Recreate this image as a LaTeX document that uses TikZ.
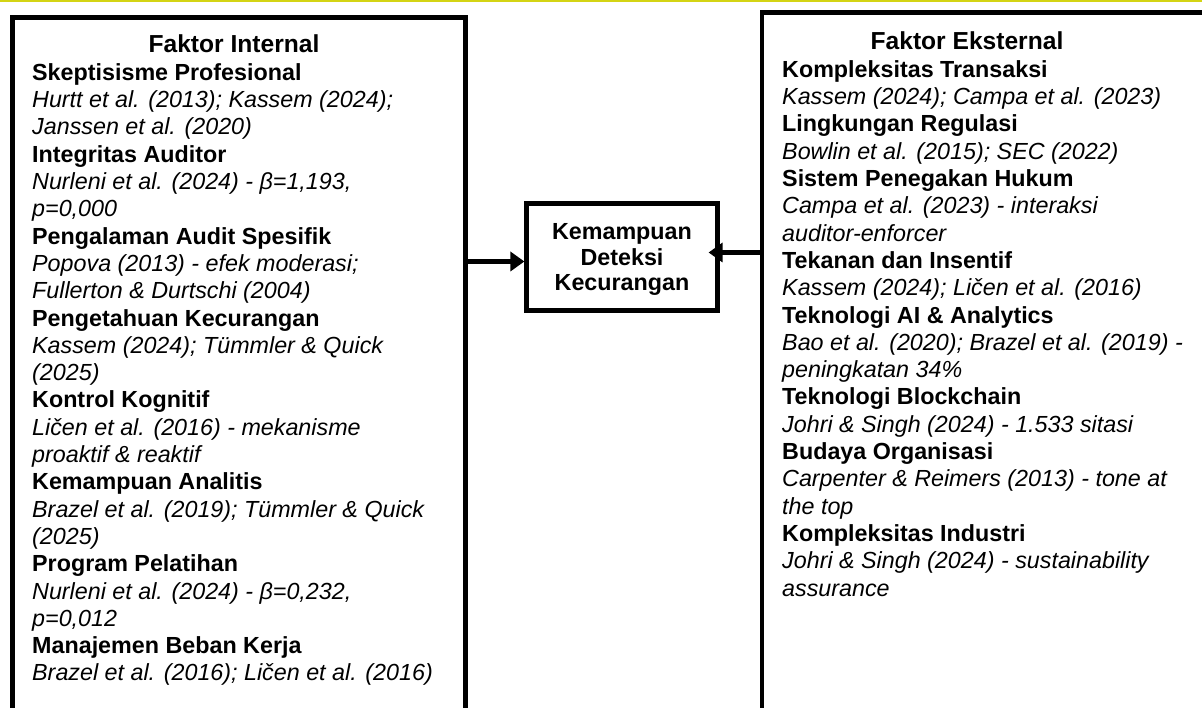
\documentclass[tikz,border=0pt]{standalone}
\usepackage{fontspec}
\setmainfont{Liberation Sans}
\usetikzlibrary{arrows.meta,positioning}
\definecolor{garisatas}{RGB}{212,212,20}
\newcommand{\fk}[1]{\textbf{#1}}
\newcommand{\rf}[1]{\textit{#1}}

\begin{document}
\begin{tikzpicture}[x=1pt, y=-1pt, line join=miter, >={Triangle[length=14pt,width=19pt]},
	kotak/.style={draw, line width=4.6pt, inner sep=0pt, anchor=north west},
	judul/.style={font=\bfseries\fontsize{24.6}{27.3}\selectfont, inner sep=0pt, anchor=base},
	isi/.style={font=\fontsize{23.3}{27.3}\selectfont, align=left, inner sep=0pt, anchor=base west},
	panah/.style={->, line width=5pt}]
	\clip (0,0) rectangle (1202,708);
	\fill[garisatas] (0,0) rectangle (1202,2.5);
	% faktor internal (base = baris terakhir)
	\node[kotak, minimum width=453pt, minimum height=760pt] (internal) at (10,15) {};
	\node[judul] (jinternal) at (234,53) {Faktor Internal};
	\node[isi] (iinternal) at (32,680.9) {\fk{Skeptisisme Profesional}\\
		\rf{Hurtt et al. (2013); Kassem (2024);}\\
		\rf{Janssen et al. (2020)}\\
		\fk{Integritas Auditor}\\
		\rf{Nurleni et al. (2024) - β=1,193,}\\
		\rf{p=0,000}\\
		\fk{Pengalaman Audit Spesifik}\\
		\rf{Popova (2013) - efek moderasi;}\\
		\rf{Fullerton \& Durtschi (2004)}\\
		\fk{Pengetahuan Kecurangan}\\
		\rf{Kassem (2024); Tümmler \& Quick}\\
		\rf{(2025)}\\
		\fk{Kontrol Kognitif}\\
		\rf{Ličen et al. (2016) - mekanisme}\\
		\rf{proaktif \& reaktif}\\
		\fk{Kemampuan Analitis}\\
		\rf{Brazel et al. (2019); Tümmler \& Quick}\\
		\rf{(2025)}\\
		\fk{Program Pelatihan}\\
		\rf{Nurleni et al. (2024) - β=0,232,}\\
		\rf{p=0,012}\\
		\fk{Manajemen Beban Kerja}\\
		\rf{Brazel et al. (2016); Ličen et al. (2016)}};
	% faktor eksternal
	\node[kotak, minimum width=500pt, minimum height=760pt] (eksternal) at (759.5,10) {};
	\node[judul] (jeksternal) at (967,50) {Faktor Eksternal};
	\node[isi] (ieksternal) at (782,596) {\fk{Kompleksitas Transaksi}\\
		\rf{Kassem (2024); Campa et al. (2023)}\\
		\fk{Lingkungan Regulasi}\\
		\rf{Bowlin et al. (2015); SEC (2022)}\\
		\fk{Sistem Penegakan Hukum}\\
		\rf{Campa et al. (2023) - interaksi}\\
		\rf{auditor-enforcer}\\
		\fk{Tekanan dan Insentif}\\
		\rf{Kassem (2024); Ličen et al. (2016)}\\
		\fk{Teknologi AI \& Analytics}\\
		\rf{Bao et al. (2020); Brazel et al. (2019) -}\\
		\rf{peningkatan 34\%}\\
		\fk{Teknologi Blockchain}\\
		\rf{Johri \& Singh (2024) - 1.533 sitasi}\\
		\fk{Budaya Organisasi}\\
		\rf{Carpenter \& Reimers (2013) - tone at}\\
		\rf{the top}\\
		\fk{Kompleksitas Industri}\\
		\rf{Johri \& Singh (2024) - sustainability}\\
		\rf{assurance}};
	% kemampuan deteksi
	\node[kotak, anchor=center, line width=4.2pt, minimum width=191pt, minimum height=107pt,
		font=\bfseries\fontsize{23.3}{25.8}\selectfont, align=center, text depth=0pt] (deteksi) at (622,257)
		{Kemampuan\\Deteksi\\Kecurangan};
	\coordinate (kiri) at (463,261.5);
	\coordinate (kanan) at (759.5,252.5);
	\draw[panah] (kiri) -- (kiri -| deteksi.west);
	\draw[panah, shorten >=-11pt] (kanan) -- (kanan -| deteksi.east);
\end{tikzpicture}
\end{document}
